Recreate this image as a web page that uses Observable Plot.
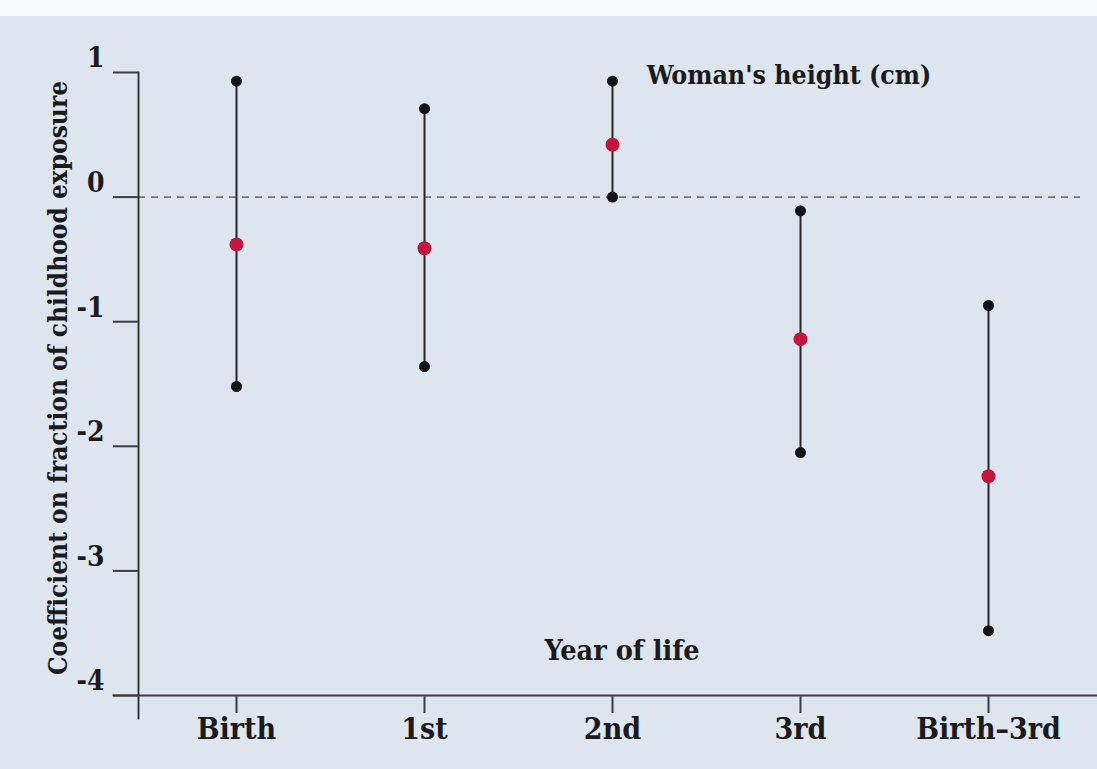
<!DOCTYPE html>
<html>
<head>
<meta charset="utf-8">
<script src="https://cdn.jsdelivr.net/npm/d3@7"></script>
<script src="https://cdn.jsdelivr.net/npm/@observablehq/plot@0.6"></script>
<style>
  html, body { margin: 0; padding: 0; background: #f8f9fb; }
  #wrap { padding-top: 16px; width: 1097px; }
  #chart svg { display: block; background: #dde5ee; }
</style>
</head>
<body>
<div id="wrap"><div id="chart"></div></div>
<script>
const categories = ["Birth", "1st", "2nd", "3rd", "Birth–3rd"];
const estimates  = [-0.38, -0.41, 0.42, -1.14, -2.24];
const lower      = [-1.52, -1.36, 0.00, -2.05, -3.48];
const upper      = [0.93, 0.71, 0.93, -0.11, -0.87];
const yTicks     = [-4, -3, -2, -1, 0, 1];
const title      = "Woman's height (cm)";
const xTitle     = "Year of life";
const yTitle     = "Coefficient on fraction of childhood exposure";

const data = categories.map((c, i) => ({cat: c, est: estimates[i], lo: lower[i], hi: upper[i]}));

const ink = "#1c1a1b";
const font = "'DejaVu Serif Condensed', 'DejaVu Serif', serif";

const chart = Plot.plot({
  width: 1097,
  height: 753,
  marginLeft: 138,
  marginRight: 0,
  marginTop: 56,
  marginBottom: 74,
  style: {fontFamily: font, fontStretch: "condensed", color: ink, background: "#dde5ee", overflow: "visible"},
  x: {type: "point", domain: categories, range: [236, 988], padding: 0},
  y: {domain: [-4, 1]},
  marks: [
    Plot.ruleY([0], {stroke: "#6f7880", strokeWidth: 1.8, strokeDasharray: "7,6", insetRight: 17}),
    Plot.frame({anchor: "left", stroke: "#2a2a2a", strokeWidth: 1.8, insetBottom: -23}),
    Plot.frame({anchor: "bottom", stroke: "#3a3d42", strokeWidth: 2, insetLeft: -25}),
    Plot.axisY({ticks: yTicks, tickSize: 25, text: null, label: null, stroke: "#3a3d42", strokeWidth: 2}),
    Plot.axisY({
      ticks: yTicks, tickSize: 0, tickPadding: 34, tickFormat: d => String(d),
      fontSize: 28, fontWeight: "bold", dy: -14, label: null
    }),
    Plot.axisX({
      tickSize: 18, tickPadding: 4, fontSize: 30, fontWeight: "bold", label: null, stroke: "#3a3d42", strokeWidth: 2
    }),
    Plot.ruleX(data, {x: "cat", y1: "lo", y2: "hi", stroke: "#262626", strokeWidth: 2}),
    Plot.dot(data, {x: "cat", y: "hi", r: 5.5, fill: "#141414"}),
    Plot.dot(data, {x: "cat", y: "lo", r: 5.5, fill: "#141414"}),
    Plot.dot(data, {x: "cat", y: "est", r: 7, fill: "#c4163c"}),
    Plot.text([title], {frameAnchor: "top", dx: 171, dy: 3, lineAnchor: "middle", fontSize: 26.5, fontWeight: "bold", fill: ink}),
    Plot.text([xTitle], {frameAnchor: "bottom", dx: 4, dy: -45, lineAnchor: "middle", fontSize: 28.5, fontWeight: "bold", fill: ink}),
    Plot.text([yTitle], {frameAnchor: "left", dx: -80, dy: -6, rotate: -90, textAnchor: "middle", lineAnchor: "middle", fontSize: 26, fontWeight: "bold", fill: ink})
  ]
});
document.getElementById("chart").appendChild(chart);
</script>
</body>
</html>
